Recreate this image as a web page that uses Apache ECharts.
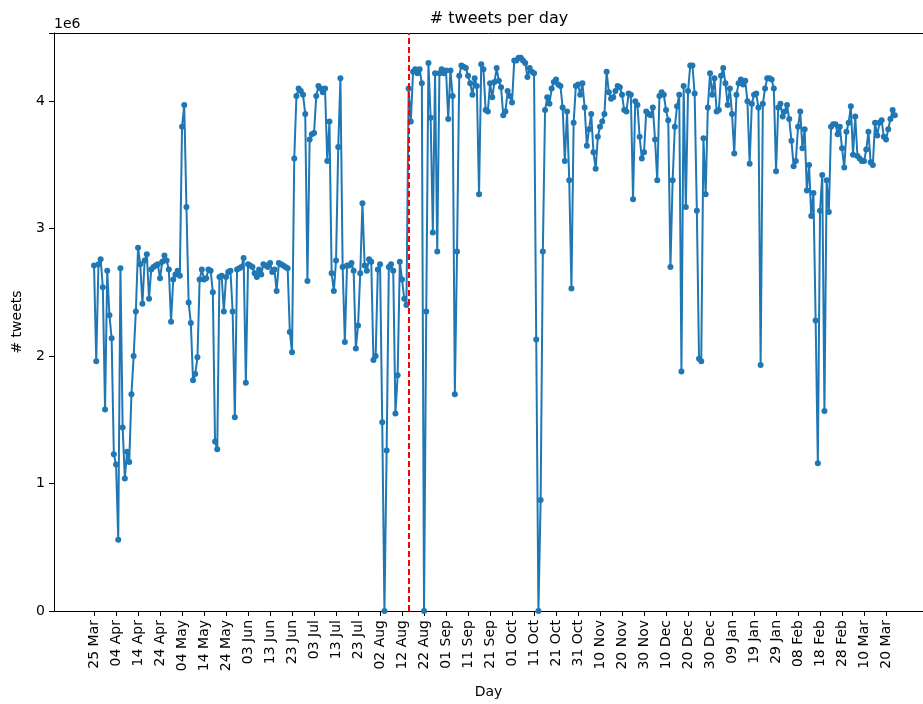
<!DOCTYPE html>
<html>
<head>
<meta charset="utf-8">
<script src="https://cdn.jsdelivr.net/npm/echarts@6/dist/echarts.min.js"></script>
<style>html,body{margin:0;padding:0;background:#fff}#chart{width:923px;height:704px}</style>
</head>
<body>
<div id="chart"></div>
<script>
// Day 0 = 25 Mar; one value per day (millions of tweets)
const tickLabels = ['25 Mar','04 Apr','14 Apr','24 Apr','04 May','14 May','24 May','03 Jun','13 Jun','23 Jun',
  '03 Jul','13 Jul','23 Jul','02 Aug','12 Aug','22 Aug','01 Sep','11 Sep','21 Sep','01 Oct','11 Oct','21 Oct',
  '31 Oct','10 Nov','20 Nov','30 Nov','10 Dec','20 Dec','30 Dec','09 Jan','19 Jan','29 Jan','08 Feb','18 Feb',
  '28 Feb','10 Mar','20 Mar'];
const tickStepDays = 10;
const markerDay = 143; // 15 Aug

const tweetsMillions = [
  2.71,1.96,2.72,2.76,2.54,1.58,2.67,2.32,2.14,1.23,
  1.15,0.56,2.69,1.44,1.04,1.25,1.17,1.70,2.00,2.35,
  2.85,2.72,2.41,2.75,2.80,2.45,2.68,2.70,2.71,2.72,
  2.61,2.74,2.79,2.75,2.68,2.27,2.60,2.64,2.67,2.63,
  3.80,3.97,3.17,2.42,2.26,1.81,1.86,1.99,2.60,2.68,
  2.60,2.61,2.68,2.67,2.50,1.33,1.27,2.62,2.63,2.35,
  2.62,2.66,2.67,2.35,1.52,2.68,2.69,2.70,2.77,1.79,
  2.72,2.71,2.70,2.65,2.62,2.68,2.64,2.72,2.71,2.70,
  2.73,2.66,2.68,2.51,2.73,2.72,2.71,2.70,2.69,2.19,
  2.03,3.55,4.04,4.10,4.08,4.05,3.90,2.59,3.70,3.74,
  3.75,4.04,4.12,4.10,4.07,4.10,3.53,3.84,2.65,2.51,
  2.75,3.64,4.18,2.70,2.11,2.71,2.71,2.73,2.67,2.06,
  2.24,2.65,3.20,2.71,2.67,2.76,2.74,1.97,2.00,2.68,
  2.72,1.48,0.00,1.26,2.70,2.72,2.67,1.55,1.85,2.74,
  2.60,2.45,2.40,4.10,3.84,4.23,4.25,4.22,4.25,4.14,
  0.00,2.35,4.30,3.87,2.97,4.22,2.82,4.22,4.25,4.22,
  4.24,3.86,4.24,4.04,1.70,2.82,4.20,4.28,4.27,4.26,
  4.20,4.14,4.05,4.18,4.12,3.27,4.29,4.25,3.93,3.92,
  4.14,4.03,4.15,4.26,4.16,4.11,3.89,3.92,4.08,4.04,
  3.99,4.32,4.32,4.34,4.34,4.32,4.30,4.19,4.26,4.23,
  4.22,2.13,0.00,0.87,2.82,3.93,4.03,3.98,4.10,4.15,
  4.17,4.13,4.12,3.95,3.53,3.92,3.38,2.53,3.83,4.12,
  4.13,4.05,4.14,3.95,3.65,3.78,3.90,3.60,3.47,3.72,
  3.80,3.84,3.90,4.23,4.07,4.02,4.03,4.08,4.12,4.11,
  4.05,3.93,3.92,4.06,4.05,3.23,4.00,3.97,3.72,3.55,
  3.60,3.92,3.90,3.89,3.95,3.70,3.38,4.04,4.07,4.05,
  3.93,3.85,2.70,3.38,3.80,3.96,4.05,1.88,4.12,3.17,
  4.08,4.28,4.28,4.06,3.14,1.98,1.96,3.71,3.27,3.95,
  4.22,4.05,4.18,3.92,3.93,4.20,4.26,4.14,3.97,4.10,
  3.90,3.59,4.05,4.14,4.17,4.13,4.16,4.00,3.51,3.98,
  4.05,4.06,3.95,1.93,3.98,4.10,4.18,4.18,4.17,4.10,
  3.45,3.95,3.98,3.88,3.92,3.97,3.86,3.69,3.49,3.53,
  3.80,3.92,3.63,3.78,3.30,3.50,3.10,3.28,2.28,1.16,
  3.14,3.42,1.57,3.38,3.13,3.80,3.82,3.82,3.74,3.80,
  3.63,3.48,3.76,3.83,3.96,3.58,3.88,3.57,3.55,3.53,
  3.53,3.62,3.76,3.52,3.50,3.83,3.73,3.83,3.85,3.72,
  3.70,3.78,3.86,3.93,3.89
];

const tickDays = tickLabels.map((_, i) => i * tickStepDays);
const labelByDay = {};
tickDays.forEach((d, i) => { labelByDay[d] = tickLabels[i]; });

const FONT = 'DejaVu Sans';
const chart = echarts.init(document.getElementById('chart'), null, {renderer: 'canvas'});
chart.setOption({
  animation: false,
  backgroundColor: '#ffffff',
  title: {
    text: '# tweets per day',
    left: 494, top: 6, textAlign: 'center',
    textStyle: {fontFamily: FONT, fontSize: 16, fontWeight: 'normal', color: '#000'}
  },
  graphic: [{
    type: 'text', left: 54, top: 17,
    style: {text: '1e6', fontFamily: FONT, fontSize: 14, fill: '#000'}
  }],
  grid: {left: 54, top: 33, right: 0, bottom: 90, containLabel: false},
  xAxis: [{
    type: 'value', min: -18.2, max: 376.8,
    name: 'Day', nameLocation: 'middle', nameGap: 74,
    nameTextStyle: {fontFamily: FONT, fontSize: 14, color: '#000'},
    axisLine: {show: true, onZero: false, lineStyle: {color: '#000', width: 1}},
    axisTick: {show: true, customValues: tickDays, length: 5, lineStyle: {color: '#000', width: 1}},
    axisLabel: {
      show: true, customValues: tickDays, rotate: 90, margin: 9,
      fontFamily: FONT, fontSize: 14, color: '#000',
      formatter: v => labelByDay[Math.round(v)] || ''
    },
    splitLine: {show: false}
  }, {
    type: 'value', position: 'top', min: -18.2, max: 376.8,
    axisLine: {show: true, onZero: false, lineStyle: {color: '#000', width: 1}},
    axisTick: {show: false}, axisLabel: {show: false}, splitLine: {show: false}
  }],
  yAxis: {
    type: 'value', min: 0, max: 4.535, interval: 1, position: 'left',
    name: '# tweets', nameLocation: 'middle', nameGap: 30, nameRotate: 90,
    nameTextStyle: {fontFamily: FONT, fontSize: 14, color: '#000'},
    axisLine: {show: true, onZero: false, lineStyle: {color: '#000', width: 1}},
    axisTick: {show: true, length: 5, lineStyle: {color: '#000', width: 1}},
    axisLabel: {
      margin: 9, fontFamily: FONT, fontSize: 14, color: '#000',
      formatter: v => (v > 4.2 ? '' : String(v))
    },
    splitLine: {show: false}
  },
  series: [{
    type: 'line',
    xAxisIndex: 0,
    data: tweetsMillions.map((v, i) => [i, v]),
    symbol: 'circle', symbolSize: 6, showAllSymbol: true,
    lineStyle: {color: '#1f77b4', width: 2},
    itemStyle: {color: '#1f77b4'},
    emphasis: {disabled: true},
    markLine: {
      silent: true, symbol: 'none', animation: false,
      label: {show: false},
      lineStyle: {color: '#ff0000', type: [6, 3], width: 2},
      data: [{xAxis: markerDay}]
    }
  }]
});
</script>
</body>
</html>
